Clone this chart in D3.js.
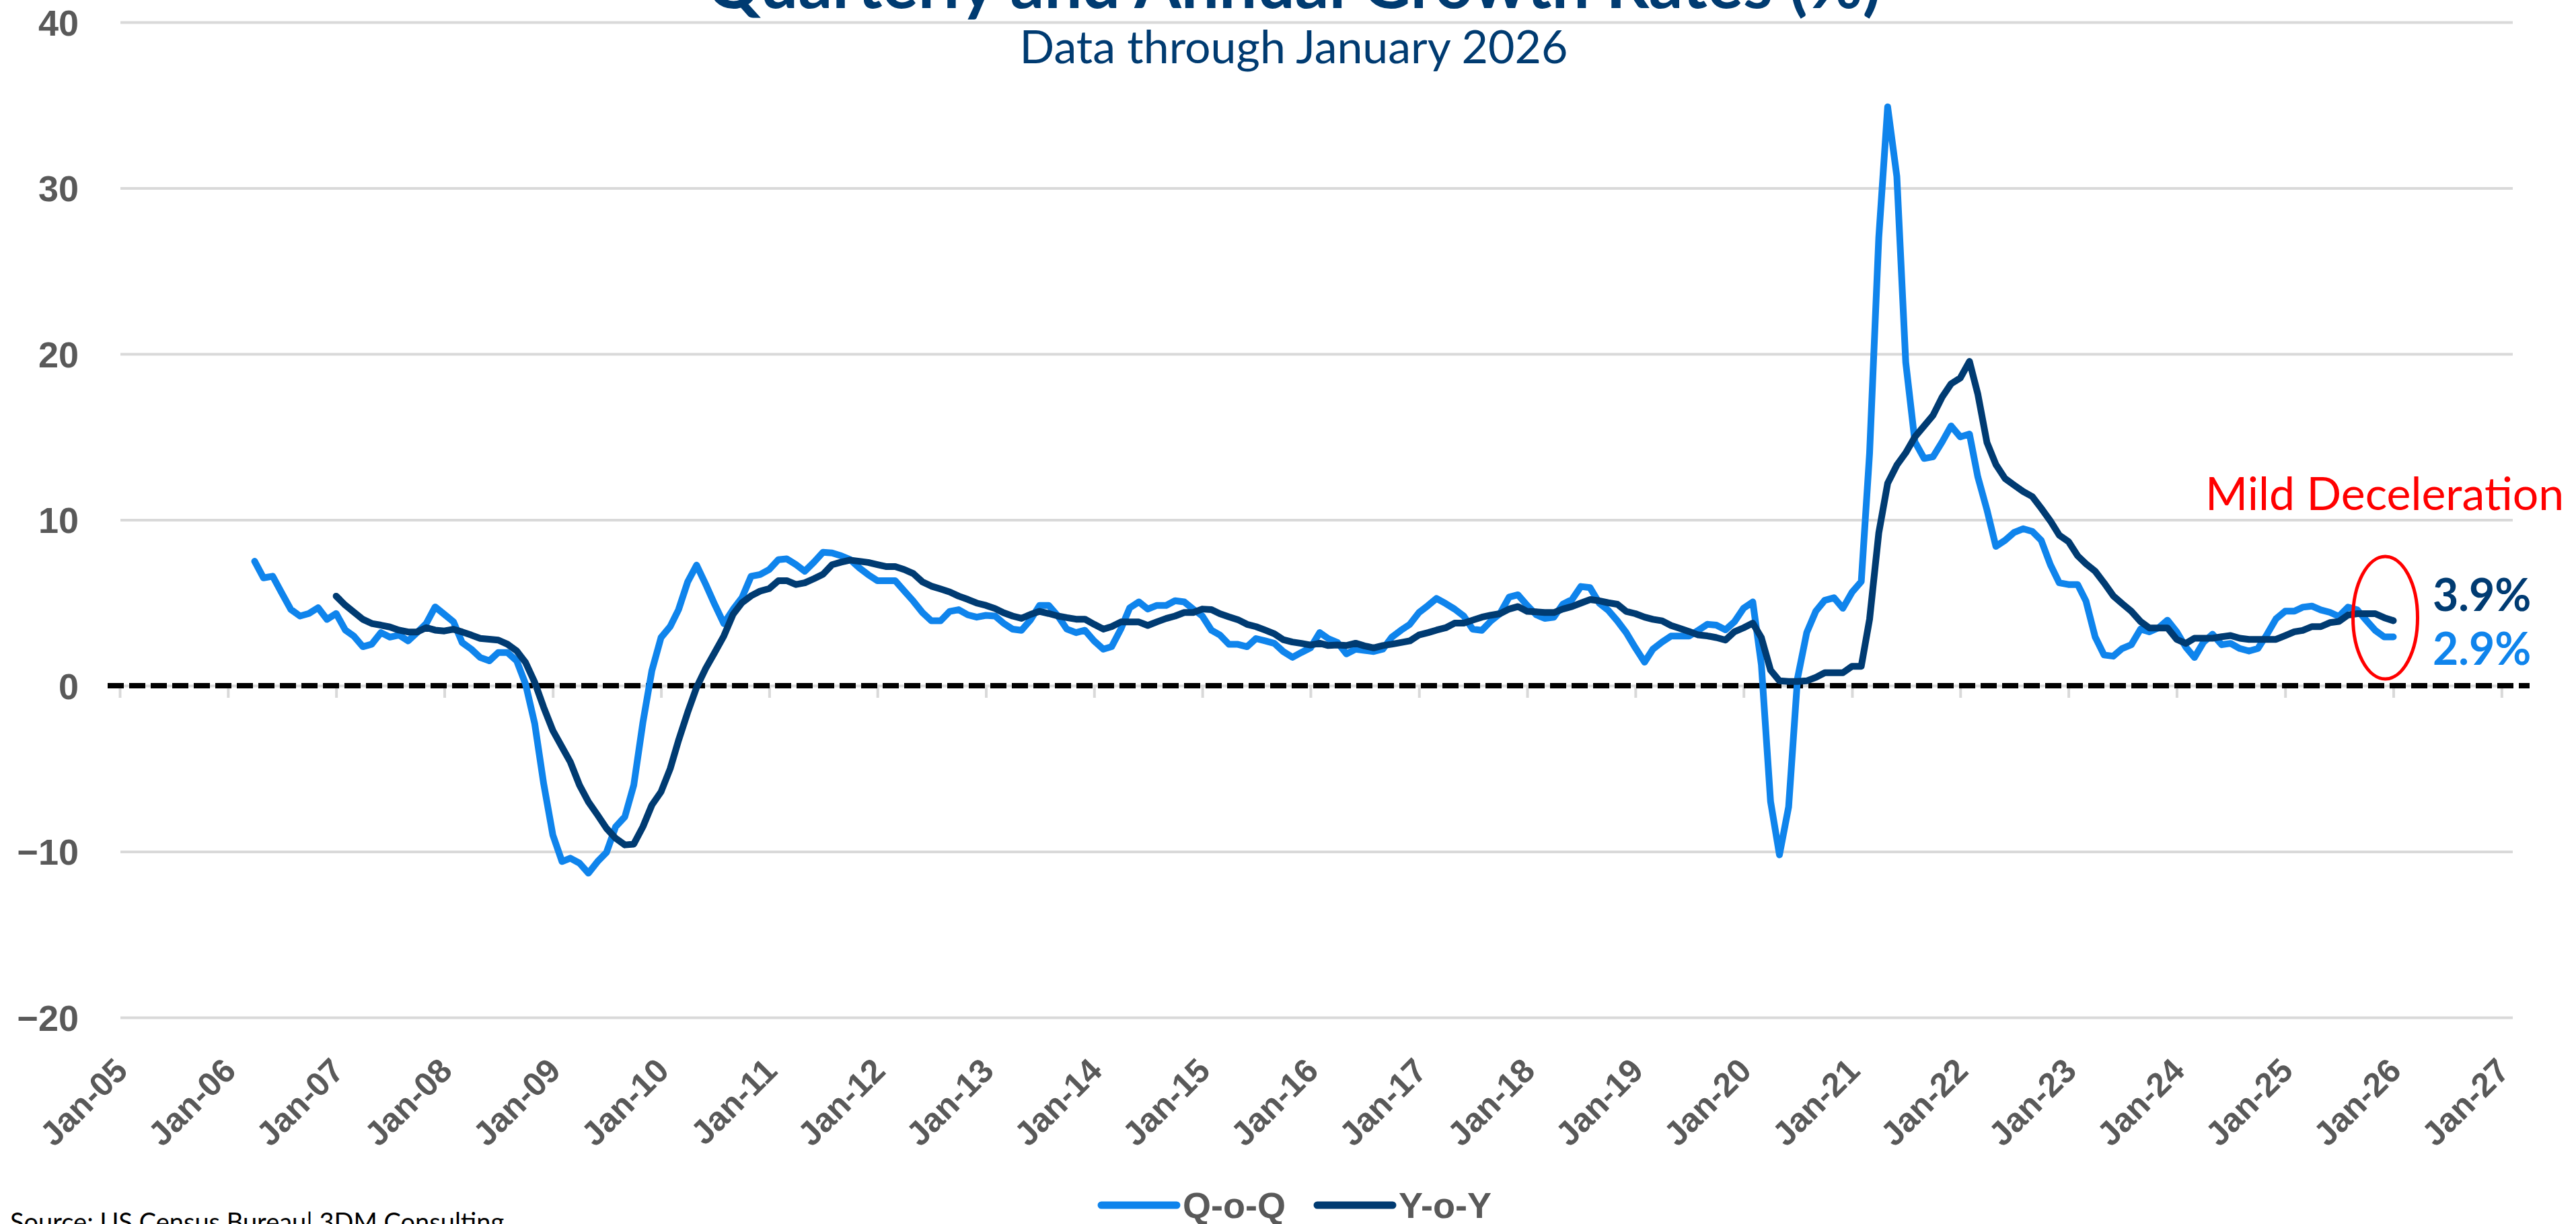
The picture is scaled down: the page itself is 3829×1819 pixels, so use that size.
<!DOCTYPE html>
<html>
<head>
<meta charset="utf-8">
<script src="https://cdn.jsdelivr.net/npm/d3@7"></script>
<style>
body { margin: 0; background: #fff; }
svg { display: block; }
</style>
</head>
<body>
<div class="chart"></div>
<script>
var W = 3829, H = 1819;

// Monthly growth rates (%)
var qoqStart = new Date(2006, 3, 1); // first Q-o-Q point: Apr 2006
var yoyStart = new Date(2007, 0, 1); // first Y-o-Y point: Jan 2007

var qoqValues = [
	7.5, 6.5, 6.6, 5.6, 4.6, 4.2, 4.35, 4.7, 4.0,                     //2006 Apr-Dec
	4.35, 3.35, 3.0, 2.35, 2.5, 3.2, 2.93, 3.05, 2.7, 3.2, 3.75, 4.75, //2007
	4.3, 3.85, 2.6, 2.2, 1.7, 1.5, 2.0, 2.0, 1.5, 0.1, -2.3, -5.9,     //2008
	-9.0, -10.6, -10.4, -10.7, -11.3, -10.6, -10.05, -8.5, -7.9, -6.0, -2.2, 0.9, //2009
	2.9, 3.57, 4.58, 6.26, 7.27, 6.1, 4.9, 3.74, 4.6, 5.3, 6.6, 6.7,   //2010
	7.0, 7.6, 7.65, 7.3, 6.9, 7.45, 8.04, 8.0, 7.83, 7.6, 7.1, 6.69,   //2011
	6.33, 6.33, 6.33, 5.7, 5.1, 4.41, 3.91, 3.91, 4.48, 4.58, 4.27, 4.13, //2012
	4.24, 4.2, 3.77, 3.41, 3.34, 3.98, 4.84, 4.84, 4.2, 3.41, 3.2, 3.34,  //2013
	2.7, 2.2, 2.35, 3.41, 4.69, 5.05, 4.62, 4.84, 4.84, 5.12, 5.05, 4.62, //2014
	4.2, 3.34, 3.06, 2.49, 2.49, 2.35, 2.84, 2.7, 2.55, 2.06, 1.71, 2.0,  //2015
	2.28, 3.2, 2.84, 2.6, 1.92, 2.2, 2.13, 2.06, 2.2, 2.92, 3.34, 3.7,    //2016
	4.41, 4.84, 5.26, 4.95, 4.62, 4.2, 3.41, 3.34, 3.91, 4.34, 5.34, 5.48, //2017
	4.84, 4.27, 4.06, 4.13, 4.91, 5.19, 5.98, 5.91, 4.98, 4.55, 3.91, 3.2, //2018
	2.28, 1.42, 2.2, 2.63, 2.99, 2.99, 2.99, 3.34, 3.7, 3.65, 3.37, 3.85,  //2019
	4.67, 5.05, 1.26, -6.98, -10.2, -7.3, 0.45, 3.2, 4.5, 5.15, 5.3, 4.67, //2020
	5.64, 6.28, 14.0, 27.0, 34.9, 30.7, 19.5, 14.7, 13.7, 13.8, 14.7, 15.66, //2021
	15.0, 15.17, 12.6, 10.6, 8.4, 8.76, 9.23, 9.46, 9.3, 8.76, 7.29, 6.2, //2022
	6.1, 6.1, 5.1, 2.94, 1.85, 1.78, 2.24, 2.47, 3.41, 3.25, 3.49, 3.95,  //2023
	3.25, 2.32, 1.7, 2.63, 3.1, 2.47, 2.55, 2.24, 2.09, 2.24, 3.1, 4.03,  //2024
	4.49, 4.49, 4.73, 4.8, 4.57, 4.42, 4.18, 4.73, 4.57, 3.95, 3.33, 2.94, //2025
	2.94                                                               //2026 Jan
];

var yoyValues = [
	5.4, 4.85, 4.45, 4.0, 3.75, 3.65, 3.54, 3.35, 3.24, 3.24, 3.5, 3.35,  //2007
	3.3, 3.4, 3.24, 3.05, 2.85, 2.8, 2.75, 2.5, 2.1, 1.4, 0.2, -1.3,      //2008
	-2.7, -3.7, -4.6, -6.0, -7.0, -7.8, -8.6, -9.2, -9.6, -9.55, -8.5, -7.2, //2009
	-6.4, -5.0, -3.3, -1.6, -0.1, 1.05, 2.0, 3.0, 4.3, 5.0, 5.42, 5.7,    //2010
	5.85, 6.33, 6.33, 6.1, 6.2, 6.45, 6.71, 7.29, 7.45, 7.57, 7.5, 7.43,  //2011
	7.3, 7.18, 7.18, 7.0, 6.76, 6.26, 6.0, 5.83, 5.65, 5.4, 5.2, 4.98,    //2012
	4.84, 4.65, 4.4, 4.2, 4.06, 4.3, 4.48, 4.35, 4.2, 4.1, 4.01, 4.01,    //2013
	3.7, 3.41, 3.56, 3.84, 3.84, 3.84, 3.63, 3.85, 4.05, 4.2, 4.41, 4.41, //2014
	4.62, 4.58, 4.34, 4.15, 3.98, 3.7, 3.56, 3.35, 3.13, 2.77, 2.63, 2.55, //2015
	2.45, 2.56, 2.42, 2.45, 2.42, 2.56, 2.4, 2.28, 2.42, 2.5, 2.6, 2.7,   //2016
	3.06, 3.2, 3.35, 3.49, 3.77, 3.77, 3.95, 4.13, 4.25, 4.34, 4.62, 4.77, //2017
	4.48, 4.45, 4.41, 4.41, 4.62, 4.77, 4.98, 5.19, 5.12, 5.0, 4.91, 4.48, //2018
	4.34, 4.13, 4.0, 3.91, 3.63, 3.45, 3.27, 3.06, 3.0, 2.9, 2.75, 3.25,  //2019
	3.49, 3.77, 2.9, 0.94, 0.29, 0.25, 0.25, 0.29, 0.5, 0.78, 0.78, 0.78, //2020
	1.17, 1.17, 4.0, 9.2, 12.2, 13.3, 14.04, 15.0, 15.66, 16.3, 17.4, 18.2, //2021
	18.55, 19.55, 17.6, 14.66, 13.34, 12.49, 12.1, 11.71, 11.4, 10.7, 9.93, 9.07, //2022
	8.69, 7.83, 7.35, 6.9, 6.2, 5.42, 4.95, 4.49, 3.87, 3.48, 3.48, 3.48, //2023
	2.79, 2.55, 2.86, 2.86, 2.86, 2.95, 3.02, 2.86, 2.79, 2.79, 2.79, 2.79, //2024
	3.02, 3.25, 3.33, 3.56, 3.56, 3.8, 3.87, 4.26, 4.34, 4.34, 4.34, 4.1, //2025
	3.92                                                                  //2026 Jan
];

var yTicks = [-20, -10, 0, 10, 20, 30, 40];
var seriesNames = ["Q-o-Q", "Y-o-Y"];
var seriesColors = ["#0f84ec", "#003b72"];
var lastLabels = ["2.9%", "3.9%"];

var titleText = "Quarterly and Annual Growth Rates (%)";
var subtitleText = "Data through January 2026";
var noteText = "Mild Deceleration";
var sourceText = "Source: US Census Bureau| 3DM Consulting";

function toSeries(start, values){
	return values.map(function(v, i){
		return {date: d3.timeMonth.offset(start, i), value: v};
	});
}
var qoq = toSeries(qoqStart, qoqValues);
var yoy = toSeries(yoyStart, yoyValues);

//D3 initialization
var svg = d3.select(".chart").append("svg")
	.attr("width", W)
	.attr("height", H);

var plotLeft = 179, plotRight = 3735;
var x = d3.scaleTime()
	.domain([new Date(2005, 0, 1), new Date(2027, 1, 1)])
	.range([178, 3732]);
var y = d3.scaleLinear()
	.domain([-20, 40])
	.range([1512, 33]);

//gridlines + y labels
var yAxis = svg.append("g")
	.attr("transform", "translate(" + plotLeft + ",0)")
	.call(d3.axisLeft(y).tickValues(yTicks).tickSize(-(plotRight - plotLeft)).tickPadding(62));
yAxis.select(".domain").remove();
yAxis.selectAll("line").attr("stroke", "#d9d9d9").attr("stroke-width", 4);
yAxis.selectAll("text")
	.attr("fill", "#595959")
	.style("font-family", "'Liberation Sans', Arial, sans-serif")
	.style("font-weight", "bold")
	.style("font-size", "54px")
	.attr("dy", "0.36em");

//small tick marks under the zero line
var xTicks = svg.append("g")
	.attr("transform", "translate(0," + y(0) + ")")
	.call(d3.axisBottom(x).ticks(d3.timeYear.every(1)).tickSize(18).tickFormat(""));
xTicks.select(".domain").remove();
xTicks.selectAll("line").attr("stroke", "#d9d9d9").attr("stroke-width", 4);

//rotated date labels at the bottom
var xLabels = svg.append("g")
	.attr("transform", "translate(0,1594)")
	.call(d3.axisBottom(x).ticks(d3.timeYear.every(1)).tickSize(0).tickFormat(d3.timeFormat("%b-%y")));
xLabels.select(".domain").remove();
xLabels.selectAll("text")
	.attr("x", 0).attr("y", 0).attr("dy", 0)
	.attr("text-anchor", "end")
	.attr("transform", "translate(14,0) rotate(-45)")
	.attr("fill", "#595959")
	.style("font-family", "'Liberation Sans', Arial, sans-serif")
	.style("font-weight", "bold")
	.style("font-size", "50px");

//dashed zero line
svg.append("line")
	.attr("x1", 160).attr("x2", 3760)
	.attr("y1", y(0)).attr("y2", y(0))
	.attr("stroke", "#000")
	.attr("stroke-width", 8)
	.attr("stroke-dasharray", "24,8");

//series lines
var line = d3.line()
	.x(function(d){ return x(d.date); })
	.y(function(d){ return y(d.value); });

[qoq, yoy].forEach(function(s, i){
	svg.append("path")
		.datum(s)
		.attr("d", line)
		.attr("fill", "none")
		.attr("stroke", seriesColors[i])
		.attr("stroke-width", 10)
		.attr("stroke-linejoin", "round")
		.attr("stroke-linecap", "round");
});

//title (cut off at the top in the original) and subtitle
svg.append("text")
	.text(titleText)
	.attr("x", 1923).attr("y", 12)
	.attr("text-anchor", "middle")
	.attr("fill", "#003b71")
	.style("font-family", "Lato, sans-serif")
	.style("font-weight", "bold")
	.style("font-size", "100px");

svg.append("text")
	.text(subtitleText)
	.attr("x", 1923).attr("y", 94)
	.attr("text-anchor", "middle")
	.attr("fill", "#003b71")
	.style("font-family", "Lato, sans-serif")
	.style("font-size", "68px");

//annotation
var lastQ = qoq[qoq.length - 1];
var ex = x(lastQ.date) - 12;
svg.append("ellipse")
	.attr("cx", ex).attr("cy", 918)
	.attr("rx", 48).attr("ry", 91)
	.attr("fill", "none")
	.attr("stroke", "#ff0000")
	.attr("stroke-width", 5);

svg.append("text")
	.text(noteText)
	.attr("x", 3278).attr("y", 758)
	.attr("fill", "#ff0000")
	.style("font-family", "Lato, sans-serif")
	.style("font-size", "68px");

svg.append("text")
	.text(lastLabels[1])
	.attr("x", 3616).attr("y", 908)
	.attr("fill", seriesColors[1])
	.style("font-family", "Lato, sans-serif")
	.style("font-weight", "bold")
	.style("font-size", "66px");

svg.append("text")
	.text(lastLabels[0])
	.attr("x", 3616).attr("y", 988)
	.attr("fill", seriesColors[0])
	.style("font-family", "Lato, sans-serif")
	.style("font-weight", "bold")
	.style("font-size", "66px");

//legend
var legendX = [1637, 1958];
seriesNames.forEach(function(name, i){
	svg.append("line")
		.attr("x1", legendX[i]).attr("x2", legendX[i] + 112)
		.attr("y1", 1791).attr("y2", 1791)
		.attr("stroke", seriesColors[i])
		.attr("stroke-width", 11)
		.attr("stroke-linecap", "round");
	svg.append("text")
		.text(name)
		.attr("x", legendX[i] + 121).attr("y", 1810)
		.attr("fill", "#595959")
		.style("font-family", "'Liberation Sans', Arial, sans-serif")
		.style("font-weight", "bold")
		.style("font-size", "54px");
});

//source
svg.append("text")
	.text(sourceText)
	.attr("x", 15).attr("y", 1830)
	.attr("fill", "#000")
	.style("font-family", "Lato, sans-serif")
	.style("font-size", "38px");
</script>
</body>
</html>
